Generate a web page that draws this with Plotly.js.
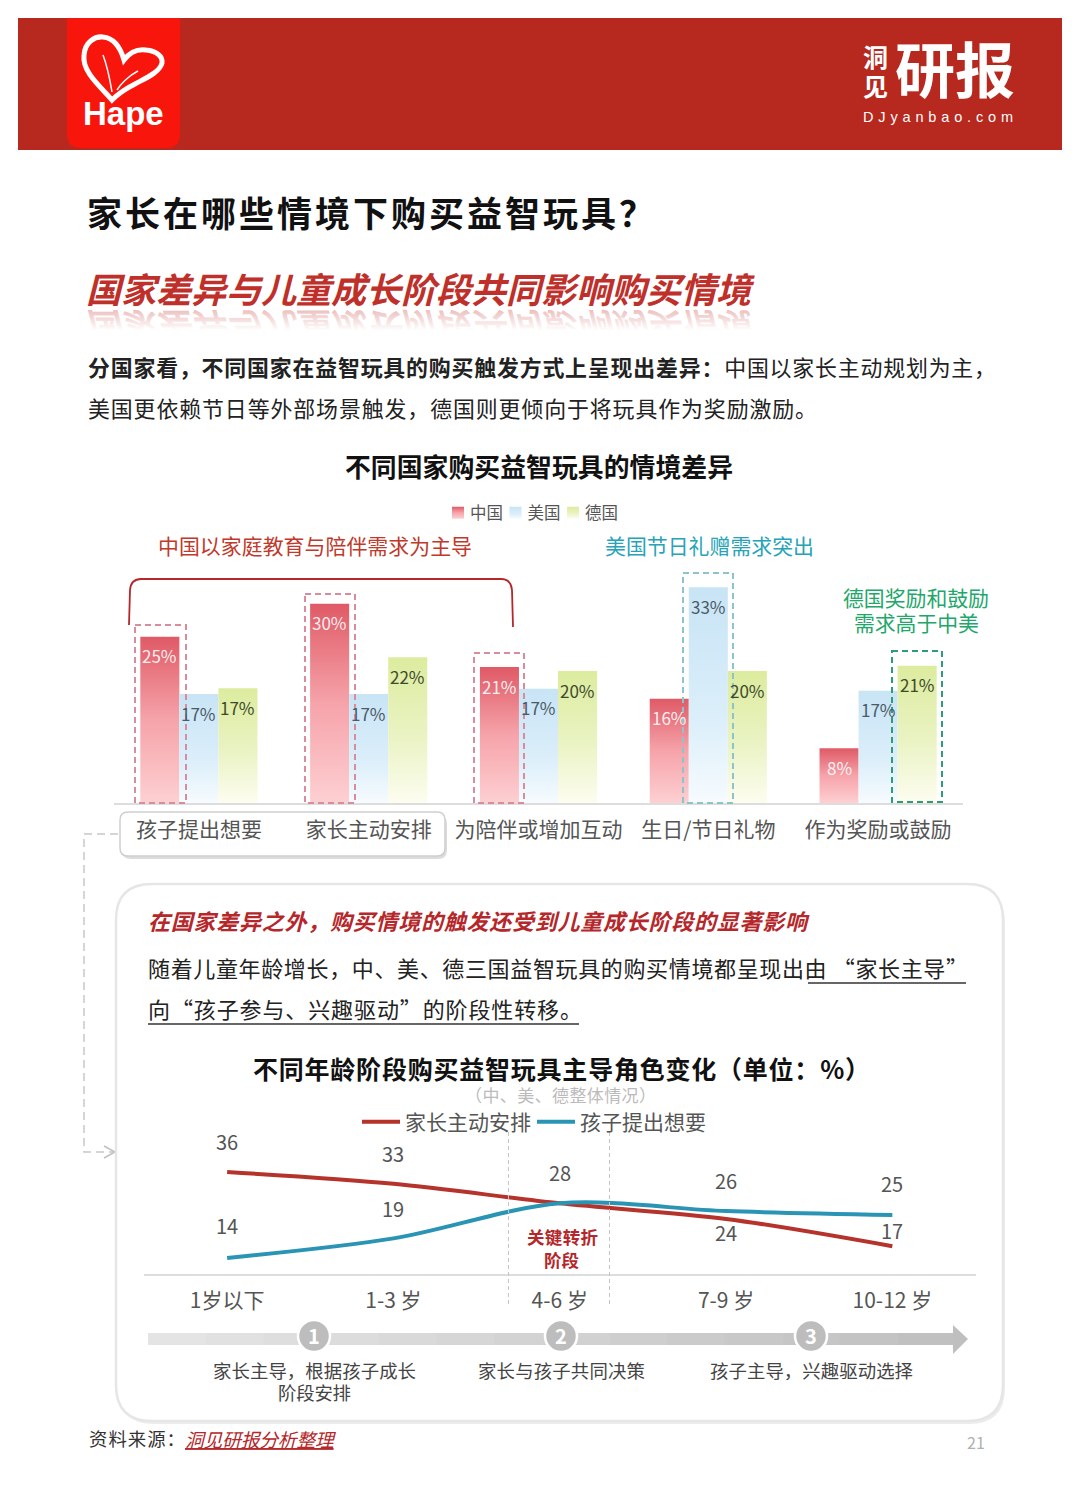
<!DOCTYPE html>
<html lang="zh"><head><meta charset="utf-8">
<script src="https://cdn.plot.ly/plotly-3.0.1.min.js"></script>
<style>html,body{margin:0;padding:0;background:#fff}#c{width:1080px;height:1512px}</style></head>
<body><div id="c"></div>
<script>
const W=1080,H=1512;
// bar chart data (heights, labels are the rounded values)
const sceneCats=['孩子提出想要','家长主动安排','为陪伴或增加互动','生日/节日礼物','作为奖励或鼓励'];
const chinaVals=[25.2,30.2,20.6,15.8,8.3];
const usaVals=[16.5,16.5,17.3,32.7,17.0];
const germanyVals=[17.4,22.1,20.0,20.0,20.8];
// line chart data
const ageCats=['1岁以下','1-3 岁','4-6 岁','7-9 岁','10-12 岁'];
const parentVals=[36,33,28,24,17];
const childVals=[14,19,28,26,25];

const FONT='"Noto Sans CJK SC","Noto Sans",sans-serif';
const px=x=>x/W, py=y=>1-y/H;
function note(text,x,y,size,color,o){return Object.assign({text,x:px(x),y:py(y),xref:'paper',yref:'paper',showarrow:false,
  xanchor:'center',yanchor:'middle',font:{family:FONT,size,color}},o||{});}
function rectS(x0,y0,x1,y1,fill,o){return Object.assign({type:'rect',xref:'paper',yref:'paper',x0:px(x0),x1:px(x1),y0:py(y0),y1:py(y1),fillcolor:fill,line:{width:0},layer:'below'},o||{});}
function pathS(pts,o){
  const d=pts.map(p=>{let s=p[0];for(let i=1;i<p.length;i+=2){s+=(i>1?' ':'')+px(p[i])+','+py(p[i+1]);}return s;}).join(' ');
  return Object.assign({type:'path',xref:'paper',yref:'paper',path:d,line:{width:1,color:'#000'},layer:'below'},o||{});}
function roundRect(x0,y0,x1,y1,r){return [['M',x0+r,y0],['L',x1-r,y0],['Q',x1,y0,x1,y0+r],['L',x1,y1-r],['Q',x1,y1,x1-r,y1],['L',x0+r,y1],['Q',x0,y1,x0,y1-r],['L',x0,y0+r],['Q',x0,y0,x0+r,y0],['Z']];}

const shapes=[];
// header
shapes.push(rectS(18,18,1062,150,'#b7281e'));
shapes.push(pathS([['M',67,18],['L',180,18],['L',180,134],['Q',180,148,166,148],['L',81,148],['Q',67,148,67,134],['Z']],{fillcolor:'#f8150c',line:{width:0}}));
// logo heart
shapes.push(pathS([['M',112,100],['C',100,86,82,72,84,55],['C',85,42,95,36,103,37],['C',113,38,120,46,124,60],['C',130,52,138,49,146,50],['C',156,51,163,56,162,63],['C',160,72,146,78,135,84],['C',125,89,118,94,112,100],['Z']],{line:{color:'#fff',width:5},fillcolor:'rgba(0,0,0,0)'}));
shapes.push(pathS([['M',112,92],['C',110,80,108,68,103,55]],{line:{color:'#fff',width:1.5}}));
shapes.push(pathS([['M',117,90],['C',120,85,128,76,138,71]],{line:{color:'#fff',width:1.5}}));
// bar-chart highlight frames
const frames=[[135,625,186,803,'#d98c9c'],[305,594,355,803,'#d98c9c'],[474,653,524,803,'#d98c9c'],[683,573,733,803,'#8cc4cc'],[892,651,942,802,'#2f9c78']];
frames.forEach(f=>shapes.push(rectS(f[0],f[1],f[2],f[3],'rgba(0,0,0,0)',{layer:'above',line:{color:f[4],width:2,dash:'6px,4px'}})));
// bracket
shapes.push(pathS([['M',129,625],['L',130,590],['Q',131,579,141,579],['L',501,579],['Q',511,579,512,590],['L',513,627]],{layer:'above',line:{color:'#b5272a',width:1.8}}));
// label card under two ticks
shapes.push(pathS(roundRect(122,815,447,859,9),{fillcolor:'#dcdcdc',line:{width:0}}));
shapes.push(pathS(roundRect(120,812,445,856,8),{fillcolor:'#fff',line:{color:'#cfcfcf',width:1.5}}));
// connector
shapes.push(pathS([['M',118,834],['L',84,834],['L',84,1152],['L',113,1152]],{line:{color:'#c8c8c8',width:1.5,dash:'8px,5px'}}));
shapes.push(pathS([['M',104,1146],['L',115,1152],['L',104,1158]],{line:{color:'#c0c0c0',width:1.5}}));
// big rounded card
shapes.push(pathS(roundRect(118,887,1005,1424,36),{fillcolor:'#ececec',line:{width:0}}));
shapes.push(pathS(roundRect(116,884,1003,1421,36),{fillcolor:'#fff',line:{color:'#e6e6e6',width:2.5}}));
// underlines
shapes.push(pathS([['M',808,983],['L',966,983]],{line:{color:'#333',width:1.3}}));
shapes.push(pathS([['M',148,1024],['L',579,1024]],{line:{color:'#333',width:1.3}}));
// turning-point dashes
[508.5,609.5].forEach(x=>shapes.push(pathS([['M',x,1132],['L',x,1307]],{layer:'above',line:{color:'#c4c4c4',width:1,dash:'4px,3px'}})));
// stage arrow
const steps=14;
for(let i=0;i<steps;i++){const a=148+i*(807/steps),b=a+807/steps+0.5,g=Math.round(228-36*i/(steps-1));
  shapes.push(rectS(a,1333,b,1345,`rgb(${g},${g},${g})`,{layer:'above'}));}
shapes.push(pathS([['M',953,1325],['L',968,1339],['L',953,1354],['Z']],{layer:'above',fillcolor:'#bfbfbf',line:{width:0}}));
[314,561,811].forEach(x=>shapes.push({type:'circle',xref:'paper',yref:'paper',x0:px(x-16),x1:px(x+16),y0:py(1336+16),y1:py(1336-16),fillcolor:'#bdbdbd',line:{color:'#fff',width:2.5},layer:'above'}));

const ann=[], fits=[];
function add(text,x,y,size,color,o,L,R){ann.push(note(text,x,y,size,color,o));if(L!==undefined)fits.push([ann.length-1,L,R]);}
// header text
add('Hape',123,114,33,'#fff',{font:{family:'"Liberation Sans",sans-serif',size:33,color:'#fff',weight:700}});
add('<b>洞</b>',875,56,25,'#fff');
add('<b>见</b>',875,85,25,'#fff');
add('<b>研报</b>',955,67,60,'#fff');
add('DJyanbao.com',938,117,14.5,'#fff',{font:{family:'"Liberation Sans",sans-serif',size:14.5,color:'#fff'}},863,1013);
// subtitle + reflection
const MIRROR_INDEX=ann.length;
add('<b><i>国家差异与儿童成长阶段共同影响购买情境</i></b>',420,287,35,'#c0302b');
add('<b><i>国家差异与儿童成长阶段共同影响购买情境</i></b>',420,287,35,'#c0302b');
// body
add('<b>分国家看，不同国家在益智玩具的购买触发方式上呈现出差异：</b>中国以家长主动规划为主，',87,366,21.9,'#222',{xanchor:'left'},88,996);
add('美国更依赖节日等外部场景触发，德国则更倾向于将玩具作为奖励激励。',87,407,21.9,'#222',{xanchor:'left'},88,817);
add('<b>不同国家购买益智玩具的情境差异</b>',539,466,25.8,'#111',null,345,733);
add('中国以家庭教育与陪伴需求为主导',315,545,20.9,'#c0392b',null,158,472);
add('美国节日礼赠需求突出',709,545,20.9,'#27a3b8',null,605,814);
add('德国奖励和鼓励',916,597,20.9,'#22a76a',null,843,989);
add('需求高于中美',916,622,20.9,'#22a76a',null,854,979);
// card text
add('<b><i>在国家差异之外，购买情境的触发还受到儿童成长阶段的显著影响</i></b>',148,920,22,'#b5272a',{xanchor:'left'},148,810);
add('随着儿童年龄增长，中、美、德三国益智玩具的购买情境都呈现出由 “家长主导”',148,967,22,'#222',{xanchor:'left'},148,968);
add('向“孩子参与、兴趣驱动”的阶段性转移。',148,1008,22,'#222',{xanchor:'left'},148,582);
add('<b>不同年龄阶段购买益智玩具主导角色变化（单位：%）</b>',555,1068,25,'#111',null,253,870);
add('（中、美、德整体情况）',560,1094,17,'#bbbbbb',null,465,656);
add('<b>关键转折</b>',562,1236,17.5,'#b5272a',null,527,598);
add('<b>阶段</b>',562,1259,17.5,'#b5272a');
['1','2','3'].forEach((t,i)=>add('<b>'+t+'</b>',[314,561,811][i],1335,20,'#fff'));
add('家长主导，根据孩子成长',314,1370,18.4,'#444',null,213,416);
add('阶段安排',314,1392,18.4,'#444',null,278,351);
add('家长与孩子共同决策',561,1370,18.4,'#444',null,478,645);
add('孩子主导，兴趣驱动选择',811,1370,18.4,'#444',null,710,913);
add('资料来源：',89,1438,18.4,'#333',{xanchor:'left'},89,185);
add('<i><u>洞见研报分析整理</u></i>',185,1438,18.8,'#b5272a',{xanchor:'left'},185,336);
add('21',976,1442,16,'#b0b0b0');

// bar value labels
const offs=[-1/3*0.69,0,1/3*0.69];
[[chinaVals,'rgba(255,255,255,0.9)'],[usaVals,'#4a5a66'],[germanyVals,'#3f4a2a']].forEach((s,k)=>{
  s[0].forEach((v,i)=>ann.push({text:Math.round(v)+'%',x:i+offs[k],y:v,xref:'x',yref:'y',yshift:-19,showarrow:false,xanchor:'center',yanchor:'middle',
    font:{family:FONT,size:17,color:s[1]}}));
});
// line value labels
const parentShift=[31,30,31,-14,16], childShift=[32,30,null,31,32];
function lineLabels(vals,sh){vals.forEach((v,i)=>{if(sh[i]===null)return;ann.push({text:String(v),x:i,y:v,xref:'x2',yref:'y2',yshift:sh[i],showarrow:false,xanchor:'center',yanchor:'middle',font:{family:FONT,size:20,color:'#555'}});});}
lineLabels(parentVals,parentShift);lineLabels(childVals,childShift);

function bar(name,y,color){return {type:'bar',name,x:sceneCats,y,xaxis:'x',yaxis:'y',marker:{color,line:{width:0}},hoverinfo:'skip',legend:'legend'};}
const traces=[bar('中国',chinaVals,'#e86a74'),bar('美国',usaVals,'#cfe8f6'),bar('德国',germanyVals,'#dceba0'),
 {type:'scatter',mode:'lines',name:'家长主动安排',x:ageCats,y:parentVals,xaxis:'x2',yaxis:'y2',legend:'legend2',line:{color:'#b5332b',width:4,shape:'spline',smoothing:0.9},hoverinfo:'skip'},
 {type:'scatter',mode:'lines',name:'孩子提出想要',x:ageCats,y:childVals,xaxis:'x2',yaxis:'y2',legend:'legend2',line:{color:'#2a94b5',width:4,shape:'spline',smoothing:0.9},hoverinfo:'skip'}];

const axisX={showgrid:false,zeroline:false,showline:true,linecolor:'#dddddd',linewidth:2,ticks:'outside',ticklen:7,tickcolor:'rgba(0,0,0,0)',type:'category',fixedrange:true,
  tickfont:{family:FONT,size:21,color:'#555'},tickangle:0,range:[-0.5,4.5]};
const layout={width:W,height:H,margin:{l:0,r:0,t:0,b:0},paper_bgcolor:'#fff',plot_bgcolor:'rgba(0,0,0,0)',font:{family:FONT},
  title:{text:'<b>家长在哪些情境下购买益智玩具？</b>',x:px(87),xanchor:'left',xref:'paper',y:py(215),yref:'paper',yanchor:'middle',font:{family:FONT,size:35,color:'#111'}},
  barmode:'group',bargap:0.31,bargroupgap:0,
  xaxis:Object.assign({},axisX,{domain:[px(114),px(963)],anchor:'y'}),
  yaxis:{domain:[py(803),py(570)],range:[0,233/6.6],visible:false,fixedrange:true},
  xaxis2:Object.assign({},axisX,{domain:[px(144),px(975.5)],anchor:'y2'}),
  yaxis2:{domain:[py(1273.5),py(1134)],range:[10,10+139.5/3.9],visible:false,fixedrange:true},
  showlegend:true,
  legend:{orientation:'h',x:px(446),y:py(513),xanchor:'left',yanchor:'middle',font:{family:FONT,size:16.5,color:'#555'},bgcolor:'rgba(0,0,0,0)',itemclick:false,itemdoubleclick:false},
  legend2:{orientation:'h',x:px(357),y:py(1122),xanchor:'left',yanchor:'middle',font:{family:FONT,size:21,color:'#555'},bgcolor:'rgba(0,0,0,0)',itemwidth:38,itemclick:false,itemdoubleclick:false},
  shapes,annotations:ann};

Plotly.newPlot('c',traces,layout,{displayModeBar:false}).then(gd=>{
  const svg=gd.querySelector('.main-svg');
  const NS='http://www.w3.org/2000/svg';
  let defs=svg.querySelector('defs');
  function grad(id,stops){const g=document.createElementNS(NS,'linearGradient');g.setAttribute('id',id);g.setAttribute('x1','0');g.setAttribute('x2','0');g.setAttribute('y1','0');g.setAttribute('y2','1');
    stops.forEach(s=>{const t=document.createElementNS(NS,'stop');t.setAttribute('offset',s[0]);t.setAttribute('stop-color',s[1]);t.setAttribute('stop-opacity',s[2]);g.appendChild(t);});defs.appendChild(g);}
  grad('gb0',[[0,'#df5a66',1],[0.5,'#f6a3aa',1],[1,'#fdd0d2',1]]);
  grad('gb1',[[0,'#c8e4f5',1],[0.6,'#dbeefa',1],[1,'#f6fbfe',1]]);
  grad('gb2',[[0,'#dcec9e',1],[0.55,'#eaf3c4',1],[1,'#fdfdf0',1]]);
  grad('gmirror',[[0,'#c0302b',0],[0.45,'#c0302b',0],[0.85,'#c0302b',0.3],[1,'#c0302b',0.3]]);
  gd.querySelectorAll('.barlayer .trace').forEach((t,i)=>t.querySelectorAll('path').forEach(p=>{p.style.fill='url(#gb'+i+')';p.style.opacity=1;}));
  // compact legend 1
  const leg=gd.querySelector('.legend');
  if(leg){leg.querySelectorAll('.traces').forEach((t,i)=>{
    const m=/translate\(([^,]+),\s*([^)]+)\)/.exec(t.getAttribute('transform')||'');
    t.setAttribute('transform','translate('+(6+i*57.5)+','+(m?m[2]:15)+')');
    const p=t.querySelector('.legendpoints path');
    if(p){p.style.fill='url(#gb'+i+')';
      const r=p.getBoundingClientRect();
      p.setAttribute('transform',(p.getAttribute('transform')||'')+' translate('+(452+i*57.5-r.left)+',0)');}
    const tx=t.querySelector('.legendtext');
    if(tx){const r=tx.getBoundingClientRect();
      tx.setAttribute('x',parseFloat(tx.getAttribute('x')||0)+(470+i*57.5-r.left));}
  });}
  // second legend: tighten the pitch a little
  const leg2=gd.querySelector('.legend2')||[...gd.querySelectorAll('g[class^="legend"]')].find(g=>g!==leg&&g.querySelector('.traces'));
  if(leg2){const t=leg2.querySelectorAll('.traces')[1];
    if(t){const m=/translate\(([^,]+),\s*([^)]+)\)/.exec(t.getAttribute('transform')||'');
      if(m)t.setAttribute('transform','translate('+(parseFloat(m[1])-4)+','+m[2]+')');}}
  // reflection of the subtitle
  const mg=gd.querySelector('.annotation[data-index="'+MIRROR_INDEX+'"] text');
  if(mg){const b=mg.getBBox();const y0=b.y+b.height*0.8+5;mg.setAttribute('transform','translate(0,'+(2*y0)+') scale(1,-1)');mg.style.fill='url(#gmirror)';}
  // fit spacing of the long texts to the reference extents
  function fit(el,L,R){
    const n=Math.max(1,el.textContent.length-1);
    const r0=el.getBoundingClientRect();
    el.style.letterSpacing=((R-L-r0.width)/n)+'px';
    const r1=el.getBoundingClientRect();
    el.setAttribute('x',parseFloat(el.getAttribute('x')||0)+(L-r1.left));
  }
  fits.forEach(f=>{const el=gd.querySelector('.annotation[data-index="'+f[0]+'"] text');if(el)fit(el,f[1],f[2]);});
  const tt=gd.querySelector('.gtitle');if(tt)fit(tt,87,654);
});
</script></body></html>
